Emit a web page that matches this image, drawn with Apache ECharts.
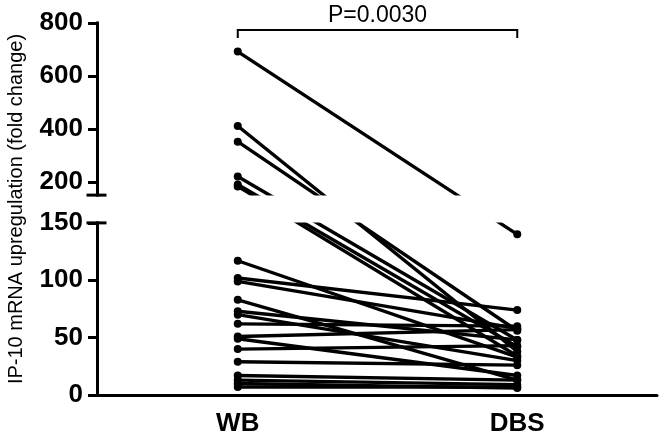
<!DOCTYPE html>
<html><head><meta charset="utf-8">
<script src="https://cdn.jsdelivr.net/npm/echarts@6/dist/echarts.min.js"></script>
<style>html,body{margin:0;padding:0;background:#fff}#c{width:664px;height:442px}</style>
</head><body><div id="c"></div>
<script>
const categories = ['WB', 'DBS'];
const wbValues  = [692, 411, 352, 220, 190, 183, 117, 102, 99, 83, 73, 70, 62, 51, 49, 40, 29, 17, 13, 10, 7];
const dbsValues = [140, 38, 56, 48, 42, 34, 33, 74, 58, 13, 48, 30, 60, 57, 17, 43, 26, 13, 9, 6, 7];
const lowerTicks = [0, 50, 100, 150];
const upperTicks = [200, 400, 600, 800];
const pLabel = 'P=0.0030';
const yTitle = 'IP-10 mRNA upregulation (fold change)';

// broken axis: lower segment 0-150, upper segment 150-800, both same height
const LOWER_MAX = 150, UPPER_MIN = 150, UPPER_MAX = 800;
const GAP = 24.2, UPPER_SPAN = 150;
function toDisplay(v) {
  return v <= LOWER_MAX ? v : LOWER_MAX + GAP + (v - UPPER_MIN) * UPPER_SPAN / (UPPER_MAX - UPPER_MIN);
}
function fromDisplay(u) {
  return u <= LOWER_MAX + 1e-6 ? u : UPPER_MIN + (u - LOWER_MAX - GAP) * (UPPER_MAX - UPPER_MIN) / UPPER_SPAN;
}

const FONT = 'Liberation Sans, Arial, sans-serif';
const GRID = { left: 98, right: 7, top: 23, bottom: 47 };
const chart = echarts.init(document.getElementById('c'), null, { renderer: 'canvas' });

const tickVals = lowerTicks.concat(upperTicks.map(toDisplay));
const series = wbValues.map((w, i) => ({
  type: 'line',
  data: [toDisplay(w), toDisplay(dbsValues[i])],
  symbol: 'circle', symbolSize: 8, showSymbol: true,
  lineStyle: { color: '#000', width: 3.4 },
  itemStyle: { color: '#000' },
  emphasis: { disabled: true },
  clip: false, silent: true, z: 2
}));

chart.setOption({
  animation: false,
  backgroundColor: '#fff',
  grid: Object.assign({ outerBoundsMode: 'none', containLabel: false }, GRID),
  xAxis: {
    type: 'category', data: categories, boundaryGap: true,
    axisLine: { lineStyle: { color: '#000', width: 3 } },
    axisTick: { alignWithLabel: true, length: 10, lineStyle: { color: '#000', width: 3 } },
    axisLabel: { color: '#000', fontSize: 26, fontWeight: 'bold', fontFamily: FONT, margin: 16 },
    splitLine: { show: false }
  },
  yAxis: {
    type: 'value', min: 0, max: toDisplay(UPPER_MAX),
    name: yTitle, nameLocation: 'middle', nameGap: 72,
    nameTextStyle: { color: '#000', fontSize: 20, fontFamily: FONT },
    axisLine: { show: false },
    axisTick: { show: true, length: 10, customValues: tickVals, lineStyle: { color: '#000', width: 3 } },
    axisLabel: {
      color: '#000', fontSize: 26, fontWeight: 'bold', fontFamily: FONT, margin: 15,
      customValues: tickVals,
      formatter: v => String(Math.round(fromDisplay(v)))
    },
    splitLine: { show: false }
  },
  series: series
});

// decorations positioned through the axes
const py = v => chart.convertToPixel({ yAxisIndex: 0 }, toDisplay(v));
const px = c => chart.convertToPixel({ xAxisIndex: 0 }, c);
const ax = GRID.left - 0.5;
const yLowTop = chart.convertToPixel({ yAxisIndex: 0 }, LOWER_MAX);
const yUpBottom = chart.convertToPixel({ yAxisIndex: 0 }, LOWER_MAX + GAP);
const yZero = py(0), yTop = py(UPPER_MAX);
const xa = px(categories[0]), xb = px(categories[1]);
const blk = { stroke: '#000', lineWidth: 3 };

chart.setOption({
  graphic: [
    { type: 'rect', z: 50, shape: { x: ax + 2, y: yUpBottom + 0.5, width: 664, height: yLowTop - yUpBottom - 1 }, style: { fill: '#fff' } },
    { type: 'line', z: 60, shape: { x1: ax, y1: yZero + 1.5, x2: ax, y2: yLowTop - 1.5 }, style: blk },
    { type: 'line', z: 60, shape: { x1: ax, y1: yUpBottom + 1.5, x2: ax, y2: yTop - 1.5 }, style: blk },
    { type: 'line', z: 60, shape: { x1: ax - 11, y1: yLowTop, x2: ax + 9, y2: yLowTop }, style: blk },
    { type: 'line', z: 60, shape: { x1: ax - 11, y1: yUpBottom, x2: ax + 9, y2: yUpBottom }, style: blk },
    { type: 'polyline', z: 60, shape: { points: [[xa, yTop + 15], [xa, yTop + 7], [xb, yTop + 7], [xb, yTop + 15]] }, style: { stroke: '#000', lineWidth: 2, fill: null } },
    { type: 'text', z: 60, x: (xa + xb) / 2, y: yTop + 4, style: { text: pLabel, fill: '#000', font: '23px ' + FONT, align: 'center', verticalAlign: 'bottom' } }
  ]
});
</script></body></html>
